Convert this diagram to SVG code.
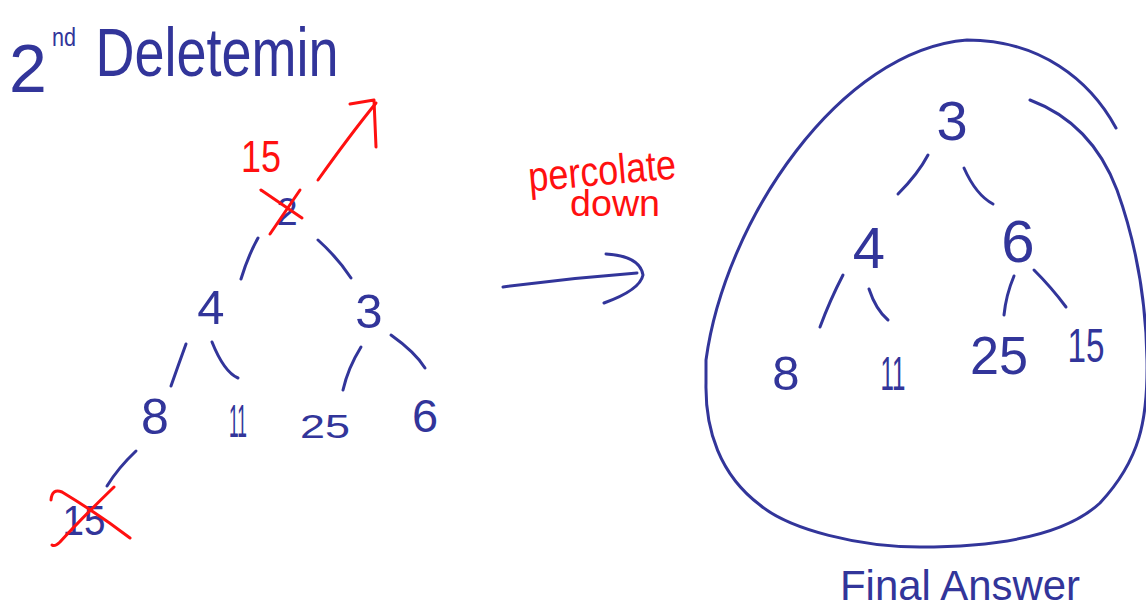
<svg xmlns="http://www.w3.org/2000/svg" width="1146" height="613" viewBox="0 0 1146 613">
<style>
.b{fill:none;stroke:#32359a;stroke-width:3;stroke-linecap:round;stroke-linejoin:round}
.r{fill:none;stroke:#ff1010;stroke-width:3;stroke-linecap:round;stroke-linejoin:round}
.tb{fill:#32359a;font-family:"Liberation Sans",Arial,sans-serif;text-anchor:middle}
.tr{fill:#ff1010;font-family:"Liberation Sans",Arial,sans-serif;text-anchor:middle}
</style>
<rect width="1146" height="613" fill="#ffffff"/>
<g id="title">
<text class="tb" x="28" y="92" font-size="68">2</text>
<text class="tb" x="64" y="46" font-size="26" textLength="24" lengthAdjust="spacingAndGlyphs">nd</text>
<text class="tb" x="217" y="76" font-size="68" textLength="243" lengthAdjust="spacingAndGlyphs">Deletemin</text>
</g>
<g id="connectors">
<path class="b" d="M258,238 Q248,256 241,279"/>
<path class="b" d="M318,240 Q338,258 351,278"/>
<path class="b" d="M186,344 Q178,366 171,386"/>
<path class="b" d="M212,342 Q224,372 238,378"/>
<path class="b" d="M361,347 Q348,368 343,390"/>
<path class="b" d="M391,335 Q415,352 425,368"/>
<path class="b" d="M136,451 Q118,468 107,486"/>
<path class="b" d="M928,155 Q918,174 898,194"/>
<path class="b" d="M964,168 Q976,195 993,204"/>
<path class="b" d="M843,275 Q830,300 820,327"/>
<path class="b" d="M869,289 Q876,310 888,320"/>
<path class="b" d="M1014,276 Q1006,295 1004,315"/>
<path class="b" d="M1034,270 Q1052,288 1066,307"/>
<path class="b" d="M503,287 Q570,278 637,273"/>
<path class="b" d="M606,254 Q640,256 643,275 Q640,290 604,303"/>
<path class="r" d="M318,180 Q350,135 376,103"/>
<path class="r" d="M350,104 L374,100 L376,147"/>
</g>
<g id="blob">
<path class="b" d="M1030,100 C1070,115 1100,145 1117,190 C1135,240 1146,300 1147,360 C1148,420 1140,460 1100,503 C1060,540 980,547 920,547 C860,547 790,530 760,505 C720,475 705,430 706,383 L706,360 C725,220 840,50 967,40 C1040,40 1090,80 1116,128"/>
</g>
<g id="node-root-left">
<text class="tb" x="287" y="225" font-size="38">2</text>
<path class="r" d="M261,190 L302,218"/>
<path class="r" d="M300,190 L270,234"/>
<text class="tr" x="261" y="172" font-size="44" textLength="40" lengthAdjust="spacingAndGlyphs">15</text>
</g>
<g id="node-4-left"><text class="tb" x="211" y="324" font-size="49">4</text></g>
<g id="node-3-left"><text class="tb" x="369" y="328" font-size="49">3</text></g>
<g id="node-8-left"><text class="tb" x="155" y="434" font-size="50">8</text></g>
<g id="node-11-left"><text class="tb" x="238" y="437" font-size="46" textLength="18" lengthAdjust="spacingAndGlyphs">11</text></g>
<g id="node-25-left"><text class="tb" x="325" y="438" font-size="34" textLength="50" lengthAdjust="spacingAndGlyphs">25</text></g>
<g id="node-6-left"><text class="tb" x="425" y="432" font-size="47">6</text></g>
<g id="node-15-left">
<text class="tb" x="84" y="535" font-size="42" textLength="43" lengthAdjust="spacingAndGlyphs">15</text>
<path class="r" d="M51,500 Q52,488 62,492 Q100,515 130,538"/>
<path class="r" d="M114,487 Q80,520 60,542 Q55,547 52,545"/>
</g>
<g id="label-percolate">
<text class="tr" x="602" y="185" font-size="42" textLength="148" lengthAdjust="spacingAndGlyphs" transform="rotate(-5 602 170)">percolate</text>
<text class="tr" x="615" y="216" font-size="36" textLength="90" lengthAdjust="spacingAndGlyphs">down</text>
</g>
<g id="node-3-right"><text class="tb" x="952" y="140" font-size="56">3</text></g>
<g id="node-4-right"><text class="tb" x="869" y="268" font-size="58">4</text></g>
<g id="node-6-right"><text class="tb" x="1018" y="262" font-size="60">6</text></g>
<g id="node-8-right"><text class="tb" x="786" y="390" font-size="49">8</text></g>
<g id="node-11-right"><text class="tb" x="893" y="390" font-size="49" textLength="25" lengthAdjust="spacingAndGlyphs">11</text></g>
<g id="node-25-right"><text class="tb" x="999" y="374" font-size="54" textLength="58" lengthAdjust="spacingAndGlyphs">25</text></g>
<g id="node-15-right"><text class="tb" x="1086" y="362" font-size="49" textLength="37" lengthAdjust="spacingAndGlyphs">15</text></g>
<g id="label-final"><text class="tb" x="960" y="600" font-size="42" textLength="240" lengthAdjust="spacingAndGlyphs">Final Answer</text></g>
</svg>
